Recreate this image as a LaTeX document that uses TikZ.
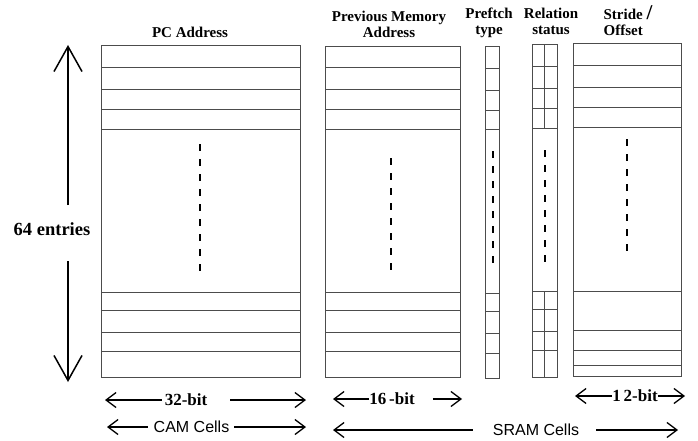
\documentclass[tikz,border=0pt]{standalone}
\usepackage{fontspec}
\setmainfont{Liberation Serif}
\setsansfont{Liberation Sans}
\usetikzlibrary{arrows.meta}

\begin{document}
\begin{tikzpicture}[x=1pt,y=-1pt,
  >={Straight Barb[length=10pt,width=15pt]},
  col/.style={draw=black!70, line width=1pt, anchor=north west, inner sep=0pt, outer sep=0pt},
  row/.style={draw=black!70, line width=1pt},
  dots/.style={line width=2pt, dash pattern=on 7pt off 8pt},
  title/.style={font=\bfseries\fontsize{15}{16}\selectfont, align=center, inner sep=0pt},
  widthlbl/.style={font=\bfseries\fontsize{17}{17}\selectfont, inner sep=0pt},
  celllbl/.style={font=\sffamily\fontsize{16}{16}\selectfont, inner sep=0pt},
  dim/.style={->, line width=1.3pt},
  bigdim/.style={-{Straight Barb[length=25pt,width=28pt]}, line width=1.5pt}]
  \useasboundingbox (0,0) rectangle (698,441);

  % column titles
  \node[title] (pct)  at (190,32) {PC Address};
  \node[title] (pmt)  at (389,24) {Previous Memory\\Address};
  \node[title] (ptt)  at (489,23) {Preftch\\type};
  \node[title] (rst)  at (551,21) {Relation\\status};
  \node[title, align=left] (sot) at (628,21) {Stride {\fontsize{21}{21}\selectfont/}\\Offset};

  % the tables
  \node[col, minimum width=199pt, minimum height=331pt] (pc) at (101,46) {};
  \node[col, minimum width=135pt, minimum height=330pt] (pm) at (325,47) {};
  \node[col, minimum width=14pt,  minimum height=331pt] (pt) at (485,47) {};
  \node[col, minimum width=25pt,  minimum height=332pt] (rs) at (532,45) {};
  \node[col, minimum width=108pt, minimum height=332pt] (so) at (573,44) {};

  \foreach \y in {68,90,110,129,292,310,332,351}
    \draw[row] (pc.west |- 0,\y) -- (pc.east |- 0,\y);
  \foreach \y in {68,90,110,129,292,310,332,351}
    \draw[row] (pm.west |- 0,\y) -- (pm.east |- 0,\y);
  \foreach \y in {69,91,111,129,293,311,333,353}
    \draw[row] (pt.west |- 0,\y) -- (pt.east |- 0,\y);
  \foreach \y in {67,89,109,128,291,309,331,350}
    \draw[row] (rs.west |- 0,\y) -- (rs.east |- 0,\y);
  \draw[row] (rs.north) -- (rs.north |- 0,128);
  \draw[row] (rs.south) -- (rs.south |- 0,291);
  \foreach \y in {66,88,108,127,291,330,350,365}
    \draw[row] (so.west |- 0,\y) -- (so.east |- 0,\y);

  % skipped entries
  \draw[dots] (200,144) -- (200,277);
  \draw[dots] (391,158) -- (391,274);
  \draw[dots] (493,151) -- (493,267);
  \draw[dots] (545,150) -- (545,266);
  \draw[dots] (627,139) -- (627,255);

  % number of entries
  \node[font=\bfseries\fontsize{18.5}{18.5}\selectfont, inner sep=0pt] (ent) at (52,229) {64 entries};
  \coordinate (enttop) at (68,45);
  \coordinate (entbot) at (68,382);
  \draw[bigdim] (68,205) -- (enttop);
  \draw[bigdim] (68,261) -- (entbot);

  % widths
  \node[widthlbl] (w32) at (186,400) {32-bit};
  \coordinate (w32l) at (105,400);
  \coordinate (w32r) at (306,400);
  \draw[dim] ([xshift=-3pt]w32.west) -- (w32l);
  \draw[dim] ([xshift=23pt]w32.east) -- (w32r);

  \node[widthlbl] (w16) at (392,399) {16\,-bit};
  \coordinate (w16l) at (333,399);
  \coordinate (w16r) at (462,399);
  \draw[dim] (w16.west) -- (w16l);
  \draw[dim] ([xshift=18pt]w16.east) -- (w16r);

  \node[widthlbl] (w12) at (635,396) {1\,2-bit};
  \coordinate (w12l) at (575,396);
  \coordinate (w12r) at (685,396);
  \draw[dim] (w12.west) -- (w12l);
  \draw[dim] (w12.east) -- (w12r);

  % cell kinds
  \node[celllbl] (cam) at (191.5,427) {CAM Cells};
  \coordinate (caml) at (107,427);
  \coordinate (camr) at (306,427);
  \draw[dim] ([xshift=-6pt]cam.west) -- (caml);
  \draw[dim] ([xshift=5pt]cam.east) -- (camr);

  \node[celllbl] (sram) at (536,430) {SRAM Cells};
  \coordinate (sraml) at (333,430);
  \coordinate (sramr) at (678,430);
  \draw[dim] ([xshift=-20pt]sram.west) -- (sraml);
  \draw[dim] ([xshift=17pt]sram.east) -- (sramr);
\end{tikzpicture}
\end{document}
